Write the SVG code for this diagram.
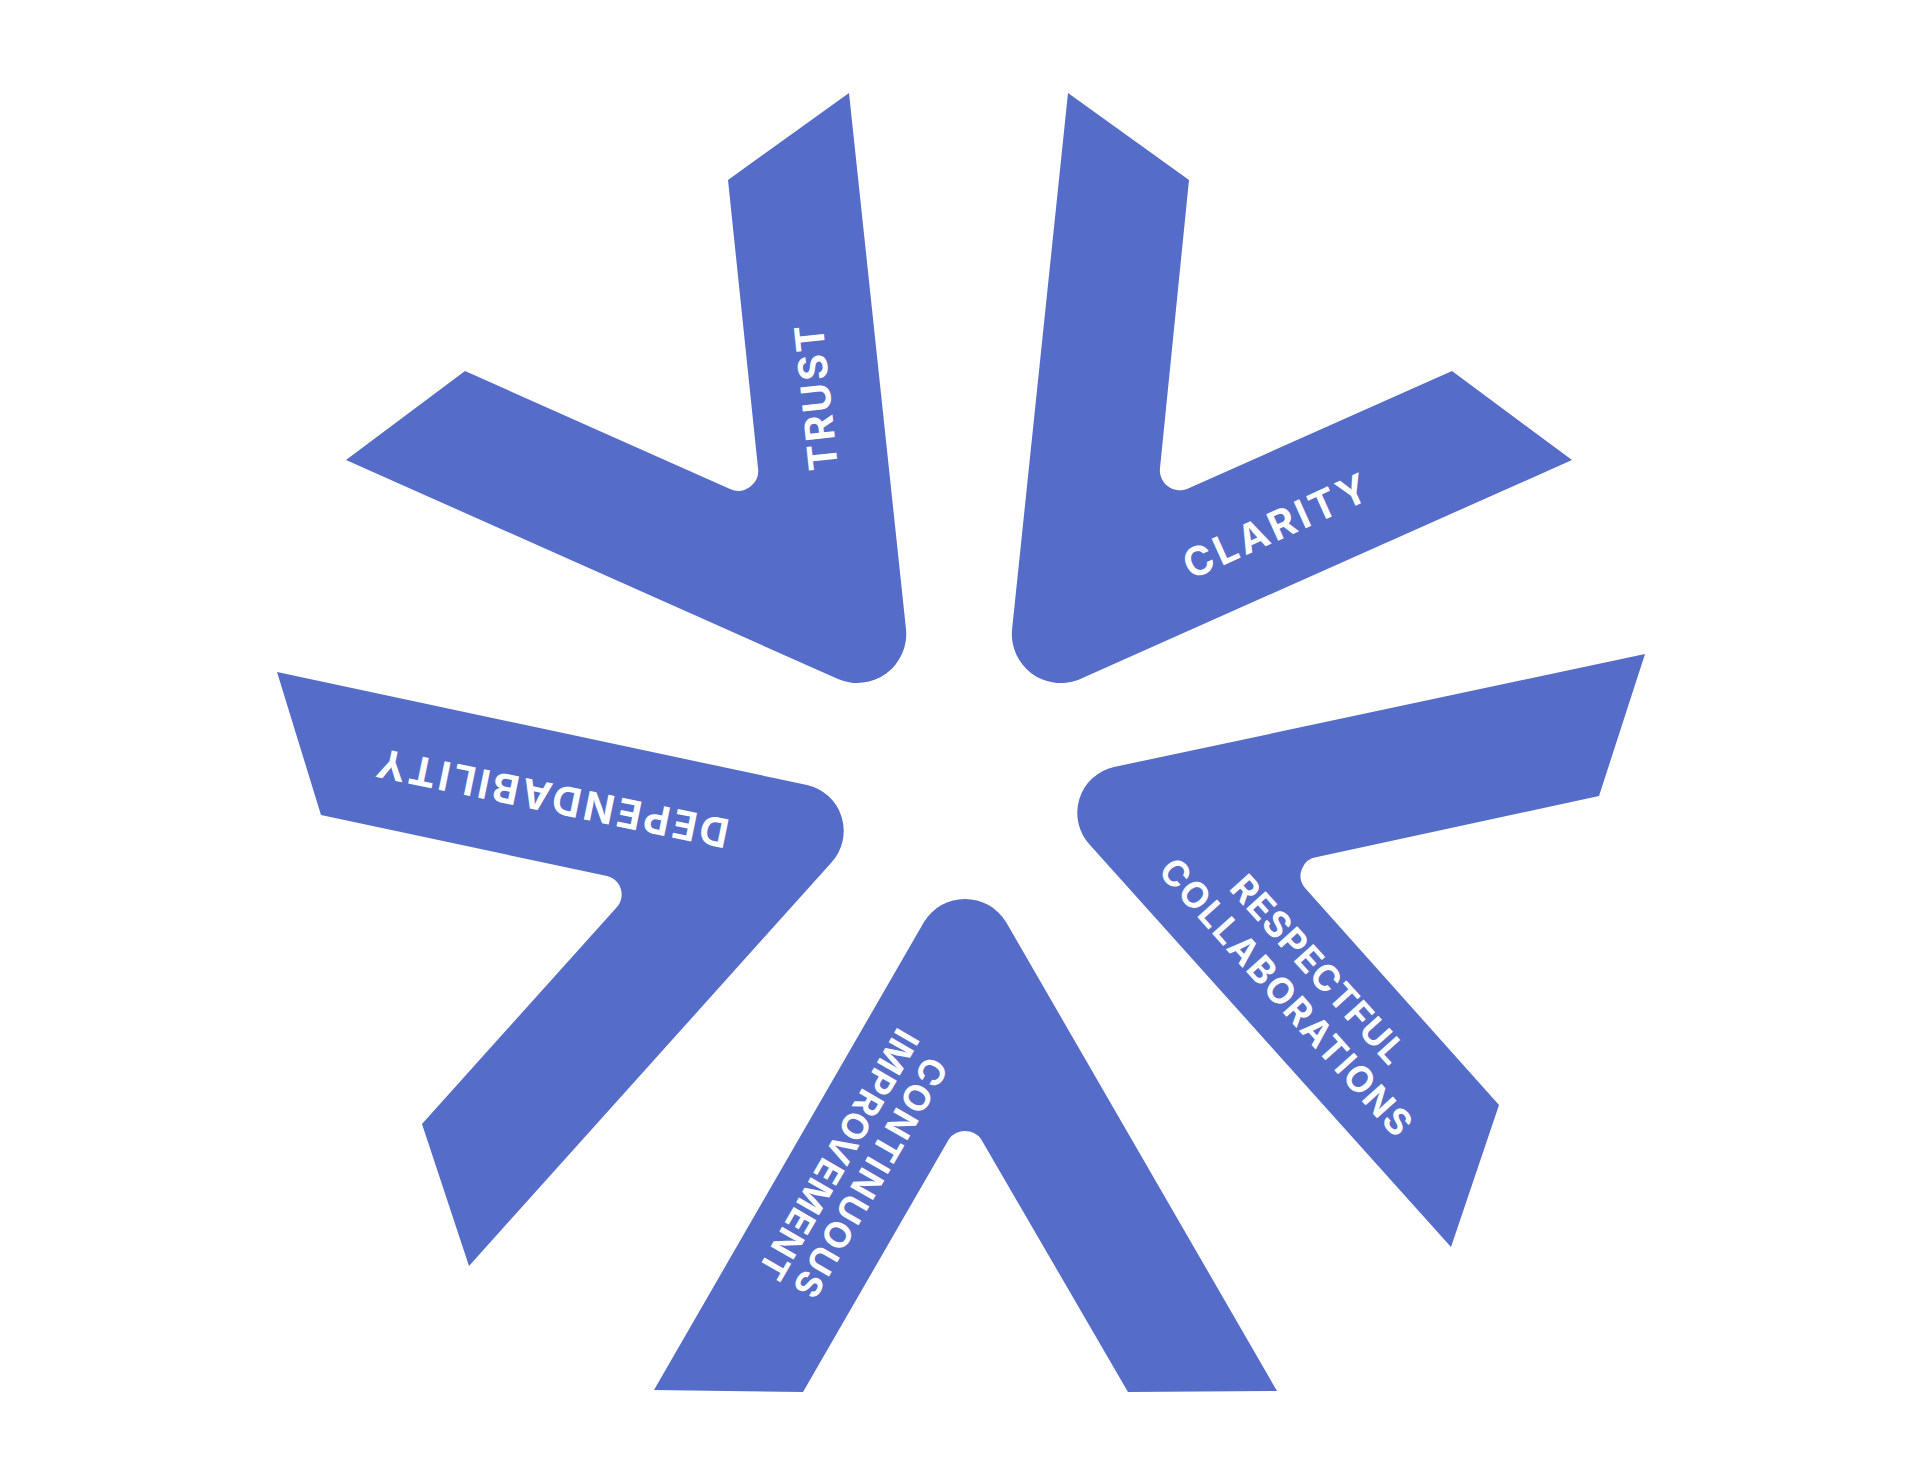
<svg xmlns="http://www.w3.org/2000/svg" width="1920" height="1484" viewBox="0 0 1920 1484">
<style>
.s{fill:#556cc8}
.t{fill:#fff;font-family:"Inter","Liberation Sans",sans-serif;font-weight:700;font-size:40px}
.u{font-size:36px}
</style>
<rect width="1920" height="1484" fill="#fff"/>
<g id="trust"><path class="s" d="M849 93L906 629A49 49 0 0 1 838 679L346 460L465 371L730 489A20 20 0 0 0 758 468L728 180Z"/><text class="t" transform="translate(838,469) rotate(-96)" textLength="146" lengthAdjust="spacing">TRUST</text></g>
<g id="clarity"><path class="s" d="M1068 93L1189 180L1160 468A20 20 0 0 0 1187 489L1452 371L1572 460L1078 680A49 49 0 0 1 1012 630Z"/><text class="t" transform="translate(1191,580) rotate(-24.3)" textLength="198" lengthAdjust="spacing">CLARITY</text></g>
<g id="respectful"><path class="s" d="M1645 654L1599 796L1317 857A19 19 0 0 0 1305 888L1499 1105L1451 1247L1090 845A47 47 0 0 1 1114 767Z"/><text class="t u" transform="translate(1228,889) rotate(47.8)" textLength="240" lengthAdjust="spacing">RESPECTFUL</text><text class="t u" transform="translate(1157,872) rotate(48.2)" textLength="358" lengthAdjust="spacing">COLLABORATIONS</text></g>
<g id="continuous"><path class="s" d="M924 922A48 48 0 0 1 1006 922L1277 1391L1128 1392L981 1139A20 20 0 0 0 949 1139L803 1392L654 1390Z"/><text class="t u" transform="translate(927,1054) rotate(120)" textLength="270" lengthAdjust="spacing">CONTINUOUS</text><text class="t u" transform="translate(898,1026) rotate(120)" textLength="282" lengthAdjust="spacing">IMPROVEMENT</text></g>
<g id="dependability"><path class="s" d="M277 672L807 785A47 47 0 0 1 831 863L469 1266L422 1124L617 907A19 19 0 0 0 607 876L321 815Z"/><text class="t" transform="translate(731,820) rotate(191.6)" textLength="358" lengthAdjust="spacing">DEPENDABILITY</text></g>
</svg>
